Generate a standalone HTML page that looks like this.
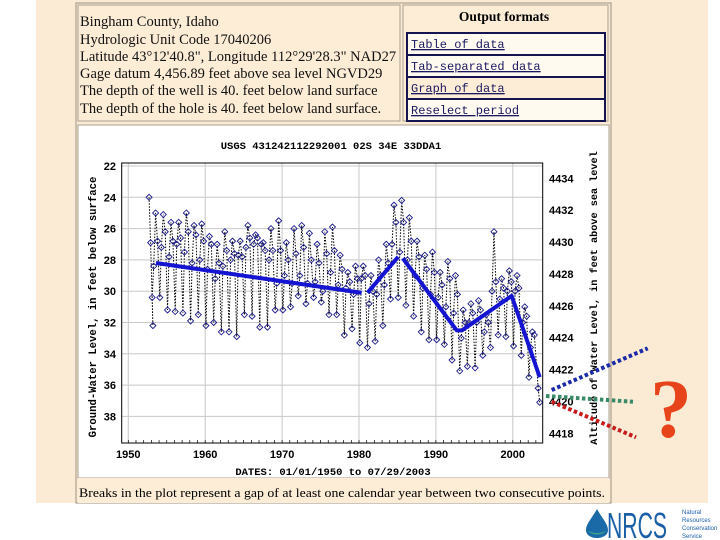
<!DOCTYPE html>
<html><head><meta charset="utf-8">
<style>
html,body{margin:0;padding:0;background:#fff;width:720px;height:540px;overflow:hidden}
svg{display:block}
.ser{font-family:"Liberation Serif",serif}
.mono{font-family:"Liberation Mono",monospace}
.sans{font-family:"Liberation Sans",sans-serif}
</style></head>
<body>
<svg id="s" width="720" height="540" viewBox="0 0 720 540" xmlns="http://www.w3.org/2000/svg">
<rect x="36" y="0" width="672" height="503" fill="#fcebd4"/>
<rect x="76" y="3" width="535" height="500" fill="none" stroke="#9a9080" stroke-width="1"/>
<rect x="78" y="5" width="322" height="116" fill="#fdecd6" stroke="#a8a090"/>
<g class="ser" font-size="14.5" fill="#111">
<text x="80" y="26">Bingham County, Idaho</text>
<text x="80" y="44">Hydrologic Unit Code 17040206</text>
<text x="80" y="61">Latitude  43°12'40.8", Longitude 112°29'28.3" NAD27</text>
<text x="80" y="78">Gage datum 4,456.89 feet above sea level NGVD29</text>
<text x="80" y="95">The depth of the well is 40. feet below land surface</text>
<text x="80" y="113">The depth of the hole is 40. feet below land surface.</text>
</g>
<rect x="403" y="5" width="205" height="116" fill="#fdecd6" stroke="#a8a090"/>
<text class="ser" x="504" y="21" font-size="13.5" font-weight="bold" text-anchor="middle">Output formats</text>
<g class="mono" font-size="12" fill="#1a1a60" text-decoration="underline">
<rect x="407" y="33" width="198" height="22" fill="#fffaf0" stroke="#141450" stroke-width="2"/>
<text x="411" y="48" text-decoration="underline">Table of data</text>
<rect x="407" y="55" width="198" height="22" fill="#fffaf0" stroke="#141450" stroke-width="2"/>
<text x="411" y="70" text-decoration="underline">Tab-separated data</text>
<rect x="407" y="77" width="198" height="22" fill="#fdecd6" stroke="#141450" stroke-width="2"/>
<text x="411" y="92" text-decoration="underline">Graph of data</text>
<rect x="407" y="99" width="198" height="22" fill="#fffaf0" stroke="#141450" stroke-width="2"/>
<text x="411" y="114" text-decoration="underline">Reselect period</text>
</g>
<rect x="78" y="125" width="531" height="353" fill="#fff" stroke="#a8a090"/>
<rect x="78" y="478" width="531" height="25" fill="#fdecd6"/>
<text class="ser" x="79" y="497" font-size="13" textLength="526" lengthAdjust="spacingAndGlyphs">Breaks in the plot represent a gap of at least one calendar year between two consecutive points.</text>
<text class="mono" x="331" y="149" font-size="10.5" font-weight="bold" text-anchor="middle">USGS 431242112292001 02S 34E 33DDA1</text>
<g id="grid"></g>
<g id="data"></g>
<rect x="121.7" y="163" width="421" height="280" fill="none" stroke="#000" stroke-width="1"/>
<g id="axes"></g>
<text class="mono" x="333" y="475" font-size="10.5" font-weight="bold" text-anchor="middle">DATES: 01/01/1950 to 07/29/2003</text>
<text class="mono" transform="translate(96,307) rotate(-90)" font-size="10.6" font-weight="bold" text-anchor="middle">Ground-Water Level, in feet below surface</text>
<text class="mono" transform="translate(597,298) rotate(-90)" font-size="10.2" font-weight="bold" text-anchor="middle">Altitude of Water Level, in feet above sea level</text>
<g id="proj"></g>
<text class="ser" x="671" y="437" font-size="84" font-weight="bold" fill="#e8441c" text-anchor="middle">?</text>
<g>
<path d="M597 509 C592 518 586 524 586 530 C586 535 591 538 597 538 C603 538 608 535 608 530 C608 524 602 518 597 509 Z" fill="#1b6aa8"/>
<path d="M588 530 C590 536 604 536 606 530 C603 534 591 534 588 530 Z" fill="#3aa58a"/>
<text class="sans" x="607" y="538" font-size="36" fill="#1b5fa8" textLength="60" lengthAdjust="spacingAndGlyphs">NRCS</text>
<text class="sans" x="682" y="514" font-size="6" fill="#1b5fa8">Natural</text>
<text class="sans" x="682" y="522" font-size="6" fill="#1b5fa8">Resources</text>
<text class="sans" x="682" y="530" font-size="6" fill="#1b5fa8">Conservation</text>
<text class="sans" x="682" y="538" font-size="6" fill="#1b5fa8">Service</text>
</g>
</svg>
<script>
const NS="http://www.w3.org/2000/svg";
const xTicks=[1950,1960,1970,1980,1990,2000];
const yTicks=[22,24,26,28,30,32,34,36,38];
const altTicks=[4418,4420,4422,4424,4426,4428,4430,4432,4434];
const years=[1953,1954,1955,1956,1957,1958,1959,1960,1961,1962,1963,1964,1965,1966,1967,1968,1969,1970,1971,1972,1973,1974,1975,1976,1977,1978,1979,1980,1981,1982,1983,1984,1985,1986,1987,1988,1989,1990,1991,1992,1993,1994,1995,1996,1997,1998,1999,2000,2001,2002];
const shallowDepth=[25.0,25.1,25.6,25.6,25.0,25.8,25.7,26.5,27.0,26.2,26.8,26.8,25.8,26.4,26.9,26.0,25.5,26.9,26.0,25.8,26.3,27.0,26.2,25.9,27.7,28.8,28.4,28.4,29.0,28.0,27.0,24.5,24.2,25.3,26.8,27.7,27.5,28.8,28.1,29.0,31.2,30.8,30.6,31.5,26.2,29.2,28.7,29.0,31.0,32.6];
const midDepth=[28.4,27.2,27.8,27.0,27.5,28.2,28.0,28.6,29.2,28.4,28.0,27.7,27.2,27.0,27.0,28.0,29.5,29.0,29.5,29.0,29.5,29.4,30.0,28.8,29.6,29.8,30.2,29.2,30.8,30.2,29.6,27.0,27.5,28.0,29.0,29.8,30.2,30.4,31.0,31.4,33.0,32.0,32.0,32.6,30.0,30.5,30.0,30.0,32.0,33.6];
const midDepth2=[26.8,26.2,26.8,26.6,26.2,26.4,26.8,27.0,28.2,27.4,27.6,27.8,26.6,26.6,27.4,27.4,27.4,28.0,27.6,27.2,28.0,28.2,27.6,27.4,28.6,29.4,29.2,29.0,30.0,29.0,28.2,25.6,25.6,26.8,27.8,28.6,28.8,29.6,29.2,30.2,32.0,31.4,31.2,32.0,29.4,29.8,29.4,29.8,31.6,32.8];
const deepDepth=[30.4,30.4,31.2,31.3,31.4,31.9,31.5,32.2,32.0,32.6,32.6,32.9,31.5,31.6,32.3,32.3,31.2,31.2,31.0,30.3,30.8,30.4,30.7,31.5,31.5,32.8,32.4,33.3,33.6,33.2,32.2,30.5,30.4,30.9,31.6,32.6,33.1,33.1,33.4,34.4,35.1,34.8,34.9,34.1,33.6,32.8,32.9,33.5,34.1,35.5];
const firstYear=[1952.7,1952.9,1953.2];
const firstDepth=[24.0,26.9,32.2];
const lastYear=[2003.3,2003.5];
const lastDepth=[36.2,37.1];
const trendSeg1Yr=[1953.6,1980.35], trendSeg1D=[28.2,30.1];
const trendSeg2Yr=[1981.1,1985.1], trendSeg2D=[30.1,27.8];
const trendSeg3Yr=[1985.7,1992.7,1993.4,1999.85,2003.5], trendSeg3D=[27.9,32.5,32.5,30.3,35.5];
const X=yr=>128.3+(yr-1950)*7.69;
const Y=d=>166+(d-22)*15.65;
const YA=a=>178.3+(4434-a)*15.94;
function mk(tag,attrs,parent){const e=document.createElementNS(NS,tag);for(const k in attrs)e.setAttribute(k,attrs[k]);parent.appendChild(e);return e;}
const grid=document.getElementById('grid'),axes=document.getElementById('axes'),data=document.getElementById('data'),proj=document.getElementById('proj');
xTicks.forEach(t=>{
 const l=mk('line',{x1:X(t),x2:X(t),y1:163,y2:443,stroke:'#c8c8c8','stroke-width':1},grid);
 
 
 const tx=mk('text',{x:X(t),y:458,'font-size':11,'font-weight':'bold','text-anchor':'middle','class':'sans'},axes);
 tx.textContent=t;
 
 
});
for(let yr=1950;yr<=2003;yr++){const m=mk('line',{x1:X(yr),x2:X(yr),y1:440,y2:443,stroke:'#000','stroke-width':0.7},axes);
 
 }
yTicks.forEach(t=>{
 const l=mk('line',{x1:121.7,x2:542.7,y1:Y(t),y2:Y(t),stroke:'#c8c8c8','stroke-width':1},grid);
 
 
 const tx=mk('text',{x:116,y:Y(t)+4,'font-size':11,'font-weight':'bold','text-anchor':'end','class':'sans'},axes);
 tx.textContent=t;
 
 
});
altTicks.forEach(t=>{
 const tx=mk('text',{x:549,y:YA(t)+4,'font-size':11,'font-weight':'bold','class':'sans'},axes);
 tx.textContent=t;
 
 
});
const pts=[];
firstYear.forEach((y,i)=>pts.push([y,firstDepth[i]]));
years.forEach((y,i)=>{pts.push([y+0.1,deepDepth[i]]);pts.push([y+0.3,midDepth[i]]);pts.push([y+0.55,shallowDepth[i]]);pts.push([y+0.8,midDepth2[i]]);});
lastYear.forEach((y,i)=>pts.push([y,lastDepth[i]]));
const pl=mk('polyline',{points:pts.map(p=>X(p[0])+','+Y(p[1])).join(' '),fill:'none',stroke:'#000','stroke-width':1,'stroke-dasharray':'1.5,1.5'},data);


pts.forEach(p=>{
 const cx=X(p[0]),cy=Y(p[1]);
 const d=mk('path',{d:`M${cx} ${cy-3}L${cx+3} ${cy}L${cx} ${cy+3}L${cx-3} ${cy}Z`,fill:'none',stroke:'#1a1a8a','stroke-width':0.9},data);
 
 
});
[[trendSeg1Yr,trendSeg1D],[trendSeg2Yr,trendSeg2D],[trendSeg3Yr,trendSeg3D]].forEach(s=>{
 const t=mk('polyline',{points:s[0].map((y,i)=>X(y)+','+Y(s[1][i])).join(' '),fill:'none',stroke:'#1414d2','stroke-width':4,'stroke-linejoin':'round'},data);
 
 
});
const projections=[['#1a2aa8',551.7,390,647.7,348.3,'projection-rising'],['#3a8a68',546,396,633,401.7,'projection-flat'],['#c81a1a',551.7,401.7,636,437.3,'projection-falling']];
projections.forEach(p=>{
 const l=mk('line',{x1:p[1],y1:p[2],x2:p[3],y2:p[4],stroke:p[0],'stroke-width':4,'stroke-dasharray':'3.5,2.5'},proj);
 
 
});
</script>
</body></html>
